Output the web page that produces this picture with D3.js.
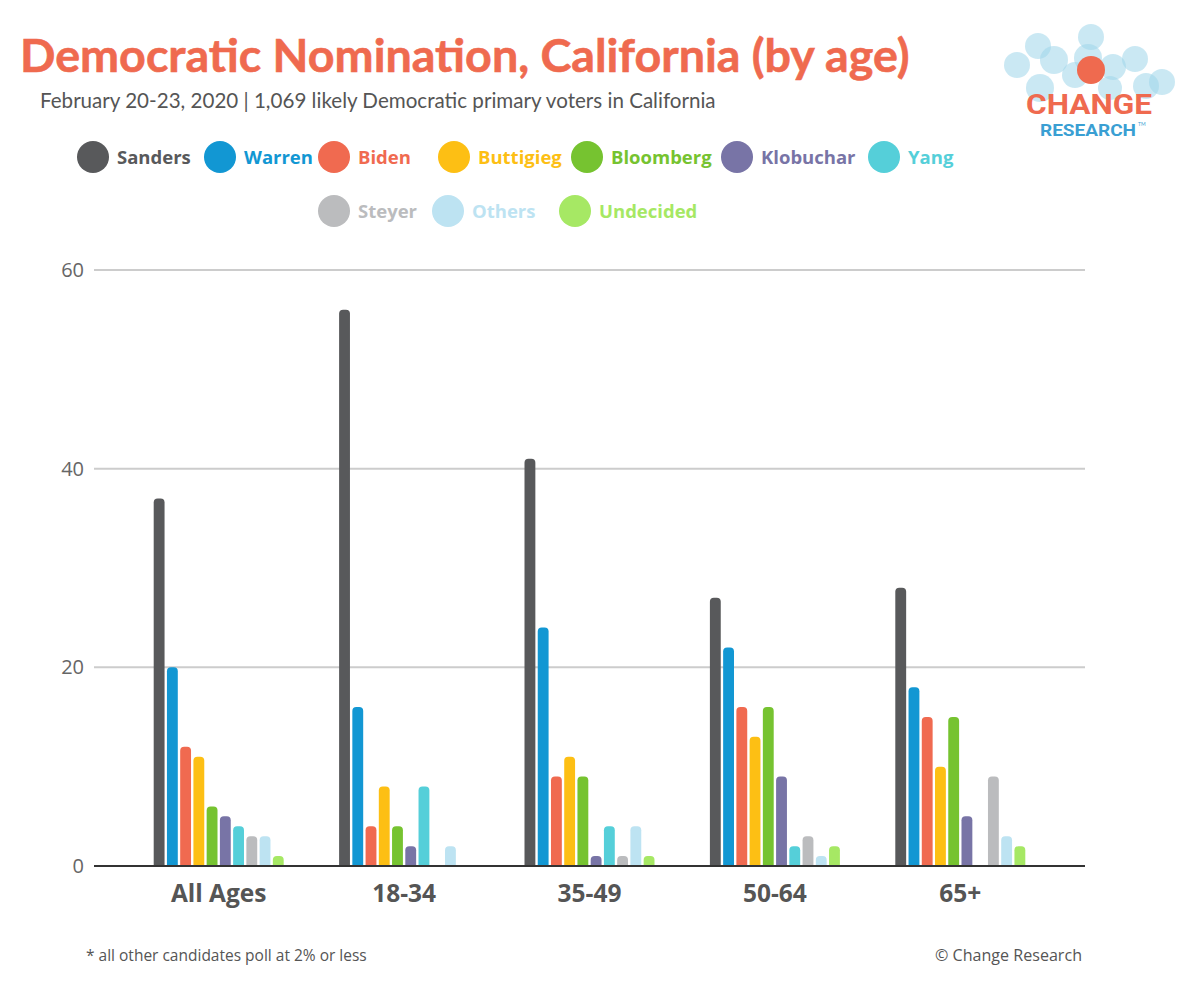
<!DOCTYPE html>
<html>
<head>
<meta charset="utf-8">
<script src="https://cdn.jsdelivr.net/npm/d3@7"></script>
<style>
  html, body { margin: 0; padding: 0; background: #fff; }
  svg { display: block; }
</style>
</head>
<body>
<svg id="chart" width="1202" height="992" font-family="Lato, 'Open Sans', sans-serif"></svg>
<script>
// ---- Data ----
const categories = ["All Ages", "18-34", "35-49", "50-64", "65+"];
const candidates = ["Sanders", "Warren", "Biden", "Buttigieg", "Bloomberg", "Klobuchar", "Yang", "Steyer", "Others", "Undecided"];
const colors = ["#58595B", "#1297D3", "#F06A50", "#FDBF14", "#76C330", "#7874A6", "#55CFD9", "#BBBCBE", "#BDE3F2", "#A6E864"];
const sanders   = [37, 56, 41, 27, 28];
const warren    = [20, 16, 24, 22, 18];
const biden     = [12, 4, 9, 16, 15];
const buttigieg = [11, 8, 11, 13, 10];
const bloomberg = [6, 4, 9, 16, 15];
const klobuchar = [5, 2, 1, 9, 5];
const yang      = [4, 8, 4, 2, 0];
const steyer    = [3, 0, 1, 3, 9];
const others    = [3, 2, 4, 1, 3];
const undecided = [1, 0, 1, 2, 2];
const yTicks = [0, 20, 40, 60];

const title = "Democratic Nomination, California (by age)";
const subtitle = "February 20-23, 2020 | 1,069 likely Democratic primary voters in California";
const footnote = "* all other candidates poll at 2% or less";
const credit = "© Change Research";

const seriesValues = [sanders, warren, biden, buttigieg, bloomberg, klobuchar, yang, steyer, others, undecided];

const svg = d3.select("#chart");

function fitText(sel, width) {
  const len = sel.node().getComputedTextLength();
  const fs = parseFloat(sel.attr("font-size"));
  sel.attr("font-size", fs * width / len);
}

// ---- Title & subtitle ----
const t = svg.append("text").attr("x", 20).attr("y", 72)
  .attr("font-size", 40).attr("font-weight", 700).attr("fill", "#EF6A4F")
  .attr("stroke", "#EF6A4F").attr("stroke-width", 0.6)
  .text(title);
fitText(t, 890);

const st = svg.append("text").attr("x", 40).attr("y", 108)
  .attr("font-size", 17).attr("fill", "#555")
  .text(subtitle);
fitText(st, 676);

// ---- Logo ----
const logo = svg.append("g");
const logoCircles = [
  [1017, 65, 13], [1038, 46, 13], [1054, 60, 14], [1091, 37, 13], [1088, 58, 14],
  [1113, 67, 13], [1135, 59, 13], [1162, 82, 13], [1040, 88, 14], [1075, 75, 13],
  [1146, 86, 13], [1110, 88, 12]
];
logo.selectAll("circle.lc").data(logoCircles).join("circle")
  .attr("class", "lc")
  .attr("cx", d => d[0]).attr("cy", d => d[1]).attr("r", d => d[2])
  .attr("fill", "#9fd5ea").attr("opacity", 0.55);
logo.append("circle").attr("cx", 1091).attr("cy", 70).attr("r", 14).attr("fill", "#EF6A4F");
logo.append("text").attr("x", 1089).attr("y", 114).attr("text-anchor", "middle")
  .attr("font-size", 27).attr("font-weight", 700).attr("fill", "#EF6A4F")
  .attr("font-family", "'Liberation Sans Narrow', 'Roboto', sans-serif")
  .attr("textLength", 126).attr("lengthAdjust", "spacingAndGlyphs")
  .text("CHANGE");
logo.append("text").attr("x", 1088).attr("y", 136).attr("text-anchor", "middle")
  .attr("font-size", 16).attr("font-weight", 700).attr("fill", "#3A9FD3")
  .attr("font-family", "'Liberation Sans Narrow', 'Roboto', sans-serif")
  .attr("textLength", 96).attr("lengthAdjust", "spacingAndGlyphs")
  .text("RESEARCH");
logo.append("text").attr("x", 1138).attr("y", 126)
  .attr("font-size", 5).attr("fill", "#3A9FD3").text("TM");

// ---- Legend ----
const legendPos = [
  [93, 157], [220, 157], [334, 157], [454, 157], [587, 157], [737, 157], [884, 157],
  [334, 211], [448, 211], [575, 211]
];
const legend = svg.append("g");
candidates.forEach((c, i) => {
  const [lx, ly] = legendPos[i];
  legend.append("circle").attr("cx", lx).attr("cy", ly).attr("r", 16).attr("fill", colors[i]);
  legend.append("text").attr("x", lx + 24).attr("y", ly + 7)
    .attr("font-size", 18.5).attr("font-weight", 700).attr("fill", colors[i])
    .attr("font-family", "'Open Sans', sans-serif")
    .text(c);
});

// ---- Scales ----
const plotLeft = 94, plotRight = 1085;
const y = d3.scaleLinear().domain([0, 60]).range([866, 270]);
const x0 = d3.scaleBand().domain(categories).range([126, 1053]).padding(0);
const groupW = 130;
const x1 = d3.scaleBand().domain(candidates)
  .range([(x0.bandwidth() - groupW) / 2, (x0.bandwidth() + groupW) / 2])
  .paddingInner(0.18).paddingOuter(0);

// ---- Grid ----
const grid = svg.append("g");
grid.selectAll("line").data(yTicks.filter(d => d > 0)).join("line")
  .attr("x1", plotLeft).attr("x2", plotRight)
  .attr("y1", d => y(d)).attr("y2", d => y(d))
  .attr("stroke", "#cccccc").attr("stroke-width", 2);

const yAxis = svg.append("g").attr("transform", `translate(${plotLeft},0)`)
  .call(d3.axisLeft(y).tickValues(yTicks).tickSize(0).tickPadding(10));
yAxis.select(".domain").remove();
yAxis.selectAll("text").attr("font-size", 20).attr("fill", "#666")
  .attr("font-family", "'Open Sans', sans-serif");

// ---- Bars ----
function topRounded(x, yTop, w, h, r) {
  r = Math.min(r, h, w / 2);
  return `M${x},${yTop + h}V${yTop + r}Q${x},${yTop} ${x + r},${yTop}H${x + w - r}Q${x + w},${yTop} ${x + w},${yTop + r}V${yTop + h}Z`;
}
const barData = [];
categories.forEach((cat, ci) => {
  candidates.forEach((cand, si) => {
    barData.push({ cat, cand, value: seriesValues[si][ci], color: colors[si] });
  });
});
svg.append("g").selectAll("path").data(barData.filter(d => d.value > 0)).join("path")
  .attr("d", d => topRounded(x0(d.cat) + x1(d.cand), y(d.value), x1.bandwidth(), y(0) - y(d.value), 4))
  .attr("fill", d => d.color);

// ---- Baseline axis ----
svg.append("line").attr("x1", plotLeft).attr("x2", plotRight)
  .attr("y1", y(0)).attr("y2", y(0)).attr("stroke", "#333").attr("stroke-width", 2);

const xAxis = svg.append("g").attr("transform", `translate(0,${y(0)})`)
  .call(d3.axisBottom(x0).tickSize(0).tickPadding(19));
xAxis.select(".domain").remove();
xAxis.selectAll("text").attr("font-size", 24.5).attr("font-weight", 700).attr("fill", "#555")
  .attr("font-family", "'Open Sans', sans-serif");

// ---- Footer ----
const fn = svg.append("text").attr("x", 86).attr("y", 961).attr("font-size", 15).attr("fill", "#555")
  .attr("font-family", "'Open Sans', sans-serif").text(footnote);
fitText(fn, 281);
const cr = svg.append("text").attr("x", 1082).attr("y", 961).attr("text-anchor", "end")
  .attr("font-size", 15).attr("fill", "#555")
  .attr("font-family", "'Open Sans', sans-serif").text(credit);
fitText(cr, 147);
</script>
</body>
</html>
